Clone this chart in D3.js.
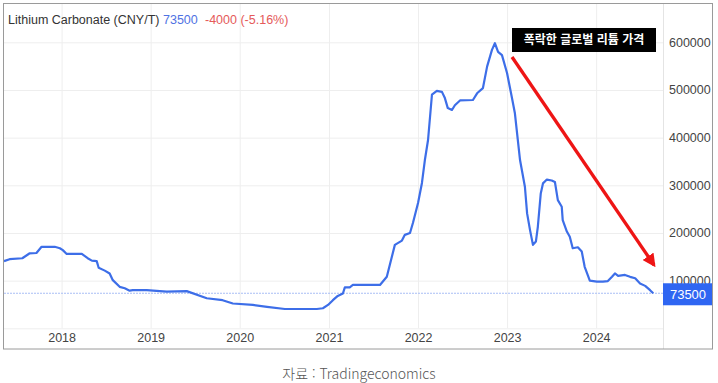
<!DOCTYPE html>
<html lang="ko">
<head>
<meta charset="UTF-8">
<script src="https://d3js.org/d3.v7.min.js"></script>
<title>Lithium Carbonate</title>
<style>
  html, body { margin: 0; padding: 0; background: #fff; }
  svg { display: block; }
</style>
</head>
<body>
<div id="chart"></div>
<script>
// values (CNY per tonne)
const dates = [
  "2017-05-10", "2017-06-02", "2017-07-24", "2017-08-22", "2017-09-20", "2017-10-11", "2017-12-04", "2017-12-25",
  "2018-01-06", "2018-01-22", "2018-03-25", "2018-04-18", "2018-05-05", "2018-05-25", "2018-06-02", "2018-06-27",
  "2018-07-17", "2018-07-30", "2018-08-27", "2018-09-17", "2018-10-07", "2018-10-20", "2018-12-16",
  "2019-02-08", "2019-03-08", "2019-05-29", "2019-08-19", "2019-10-23", "2019-12-04",
  "2020-02-24", "2020-04-22", "2020-07-04", "2020-11-12", "2020-12-07", "2020-12-28",
  "2021-01-17", "2021-02-06", "2021-02-27", "2021-03-07", "2021-03-27", "2021-04-09", "2021-05-08", "2021-07-29",
  "2021-08-26", "2021-09-28", "2021-10-27", "2021-11-08", "2021-11-29", "2021-12-11",
  "2022-01-01", "2022-01-17", "2022-01-29", "2022-02-11", "2022-02-27", "2022-03-19", "2022-04-09", "2022-04-21",
  "2022-05-03", "2022-05-20", "2022-06-01", "2022-06-22", "2022-08-14", "2022-08-31", "2022-09-24", "2022-10-11",
  "2022-10-31", "2022-11-12", "2022-11-25", "2022-12-11",
  "2023-01-01", "2023-01-21", "2023-02-02", "2023-02-23", "2023-03-15", "2023-03-24", "2023-04-05", "2023-04-17",
  "2023-04-29", "2023-05-07", "2023-05-19", "2023-05-28", "2023-06-13", "2023-07-03", "2023-07-16", "2023-07-28",
  "2023-08-13", "2023-08-17", "2023-09-03", "2023-09-15", "2023-09-27", "2023-10-18", "2023-11-03", "2023-11-15",
  "2023-12-06", "2024-01-04", "2024-01-29", "2024-02-18", "2024-03-06", "2024-03-18", "2024-03-31", "2024-04-28",
  "2024-05-19", "2024-06-09", "2024-06-29", "2024-07-20", "2024-08-09", "2024-08-22"
];
const prices = [
  141000, 145000, 147000, 157000, 158000, 171000, 171000, 168000,
  164000, 156000, 156000, 147000, 142000, 141000, 127000, 121000,
  115000, 101000, 87000, 84000, 79000, 80000, 80000,
  78000, 77000, 78000, 63000, 59000, 52000,
  49000, 45000, 40500, 40500, 42000, 49000,
  59000, 68000, 73000, 86000, 86000, 91000, 91000, 91000,
  108000, 175000, 184000, 196000, 200000, 221000,
  263000, 305000, 353000, 395000, 490000, 498000, 496000, 483000,
  462000, 458000, 468000, 478000, 479000, 493000, 504000, 549000,
  584000, 598000, 580000, 573000,
  535000, 483000, 451000, 353000, 297000, 241000, 206000, 175000,
  182000, 213000, 283000, 304000, 312000, 310000, 307000, 269000,
  255000, 227000, 203000, 192000, 168000, 170000, 161000, 129000,
  100000, 98000, 98000, 99000, 108000, 115000, 110000, 112000,
  108000, 105000, 94000, 89000, 80000, 73500
];
const yTicks = [0, 100000, 200000, 300000, 400000, 500000, 600000];
const lastValue = 73500;
const titleParts = ["Lithium Carbonate (CNY/T)", "73500", "-4000 (-5.16%)"];
const annotation = "폭락한 글로벌 리튬 가격";
const source = "자료 : Tradingeconomics";

const W = 718, H = 383;
const plot = { left: 4, right: 663, top: 3, bottom: 349 };
const latin = "Arial, 'Liberation Sans', sans-serif";
const korean = "'Noto Sans CJK KR', sans-serif";

const parse = d3.timeParse("%Y-%m-%d");
const data = dates.map((d, i) => ({ date: parse(d), value: prices[i] }));

const svg = d3.select("#chart").append("svg")
  .attr("width", W)
  .attr("height", H);

const x = d3.scaleTime()
  .domain([parse("2017-05-10"), parse("2024-10-01")])
  .range([plot.left, plot.right]);

const y = d3.scaleLinear()
  .domain([0, 600000])
  .range([328.3, 42.3]);

// vertical grid at each year
svg.append("g")
  .attr("transform", "translate(0,328.3)")
  .call(d3.axisBottom(x).ticks(d3.timeYear.every(1)).tickSize(-325).tickFormat(""))
  .call(g => g.select(".domain").remove())
  .call(g => g.selectAll("line").attr("stroke", "#eeeeee"));

// horizontal grid
svg.append("g")
  .attr("transform", `translate(${plot.left},0)`)
  .call(d3.axisRight(y).tickValues(yTicks).tickSize(plot.right - plot.left).tickFormat(""))
  .call(g => g.select(".domain").remove())
  .call(g => g.selectAll("line").attr("stroke", "#eeeeee"));

// separator between plot and value labels
svg.append("line")
  .attr("x1", plot.right + 0.5).attr("x2", plot.right + 0.5)
  .attr("y1", plot.top).attr("y2", plot.bottom)
  .attr("stroke", "#e4e4e4");

// y labels
svg.append("g")
  .attr("transform", `translate(${plot.right},0)`)
  .call(d3.axisRight(y).tickValues(yTicks.filter(v => v > 0)).tickSize(0).tickPadding(6).tickFormat(d3.format("d")))
  .call(g => g.select(".domain").remove())
  .call(g => g.selectAll("text")
    .attr("font-family", latin)
    .attr("font-size", 12.5)
    .attr("fill", "#444"));

// x labels
svg.append("g")
  .attr("transform", "translate(0,333)")
  .call(d3.axisBottom(x).ticks(d3.timeYear.every(1)).tickSize(0).tickPadding(0).tickFormat(d3.timeFormat("%Y")))
  .call(g => g.select(".domain").remove())
  .call(g => g.selectAll("text")
    .attr("font-family", latin)
    .attr("font-size", 12.5)
    .attr("fill", "#444"));

// last value dotted line
svg.append("line")
  .attr("x1", plot.left).attr("x2", plot.right)
  .attr("y1", y(lastValue)).attr("y2", y(lastValue))
  .attr("stroke", "#a9bff5")
  .attr("stroke-width", 1)
  .attr("stroke-dasharray", "2,1");

// price line
svg.append("path")
  .datum(data)
  .attr("fill", "none")
  .attr("stroke", "#3d6ee8")
  .attr("stroke-width", 2.2)
  .attr("stroke-linejoin", "round")
  .attr("d", d3.line().x(d => x(d.date)).y(d => y(d.value)));

// last value box
svg.append("rect")
  .attr("x", plot.right).attr("y", y(lastValue) - 10)
  .attr("width", 50).attr("height", 22)
  .attr("fill", "#2f66f2");
svg.append("text")
  .attr("x", plot.right + 25).attr("y", y(lastValue) + 1)
  .attr("dy", "0.35em")
  .attr("text-anchor", "middle")
  .attr("font-family", latin)
  .attr("font-size", 13)
  .attr("fill", "#fff")
  .text(d3.format("d")(lastValue));

// frame
svg.append("rect")
  .attr("x", 3.5).attr("y", 3.5)
  .attr("width", 709).attr("height", 345.5)
  .attr("fill", "none")
  .attr("stroke", "#9a9a9a");

// title
const title = svg.append("text")
  .attr("y", 24)
  .attr("font-family", latin)
  .attr("font-size", 12.5);
title.append("tspan").attr("x", 8).attr("fill", "#333").text(titleParts[0]);
title.append("tspan").attr("x", 163).attr("fill", "#4f72e3").text(titleParts[1]);
title.append("tspan").attr("x", 205).attr("fill", "#e55a5a").text(titleParts[2]);

// annotation
svg.append("rect")
  .attr("x", 512).attr("y", 28)
  .attr("width", 144).attr("height", 24)
  .attr("fill", "#000");
svg.append("text")
  .attr("x", 584).attr("y", 40)
  .attr("dy", "0.35em")
  .attr("text-anchor", "middle")
  .attr("font-family", korean)
  .attr("font-weight", "bold")
  .attr("font-size", 12)
  .attr("fill", "#fff")
  .text(annotation);

svg.append("defs").append("marker")
  .attr("id", "head")
  .attr("viewBox", "0 0 10 10")
  .attr("refX", 8).attr("refY", 5)
  .attr("markerWidth", 4).attr("markerHeight", 4)
  .attr("markerUnits", "strokeWidth")
  .attr("orient", "auto")
  .append("path")
  .attr("d", "M0,0 L10,5 L0,10 Z")
  .attr("fill", "#ee1515");

svg.append("line")
  .attr("x1", 512).attr("y1", 57)
  .attr("x2", 654).attr("y2", 265)
  .attr("stroke", "#ee1515")
  .attr("stroke-width", 3.3)
  .attr("marker-end", "url(#head)");

// source line
svg.append("text")
  .attr("x", 359).attr("y", 379)
  .attr("text-anchor", "middle")
  .attr("font-family", korean)
  .attr("font-size", 14)
  .attr("font-weight", 300)
  .attr("fill", "#555")
  .text(source);
</script>
</body>
</html>
